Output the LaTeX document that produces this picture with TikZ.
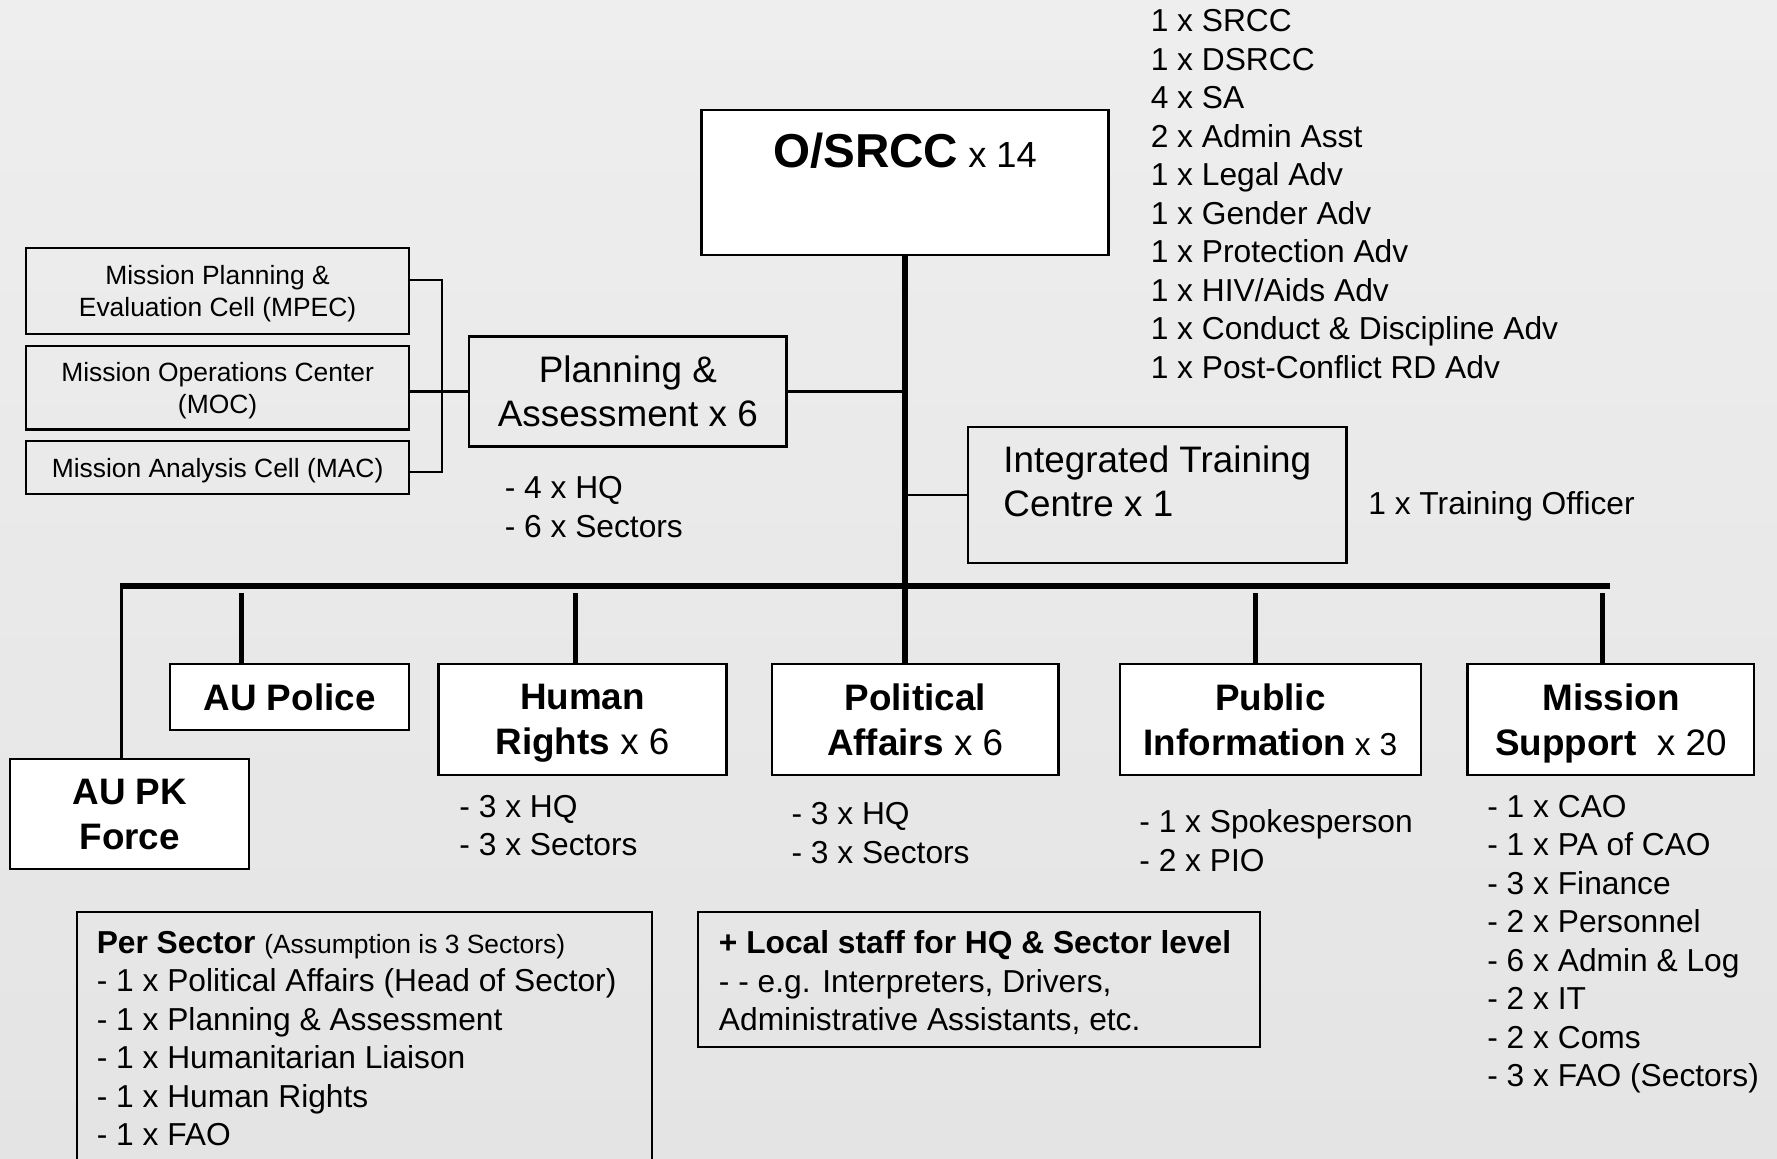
\documentclass[tikz,border=0pt]{standalone}
\usepackage{fontspec}
\setmainfont{Liberation Sans}
\usepackage{tikz}
\definecolor{bgtop}{RGB}{238,238,238}
\definecolor{bgmid}{RGB}{217,217,217}
\definecolor{bgbot}{RGB}{228,228,228}

\begin{document}
\begin{tikzpicture}[x=0.5pt,y=0.5pt,yscale=-1,xscale=1,
  unitbox/.style={draw, line width=1pt, fill=white, align=center, inner sep=0pt, text depth=0pt, font=\fontsize{16.25}{20}\selectfont\bfseries},
  openbox/.style={draw, line width=1pt, inner sep=0pt},
  cellbox/.style={draw, line width=1pt, align=center, inner sep=0pt, text depth=0pt, minimum width=169pt, font=\fontsize{11.65}{14}\selectfont},
  listtxt/.style={anchor=north west, inner sep=0pt, align=left, font=\fontsize{14}{17}\selectfont},
  link/.style={line width=1pt},
  drop/.style={line width=2pt, shorten >=3pt},
  trunk/.style={line width=2.5pt}]
\useasboundingbox (0,0) rectangle (1568,1022);
\clip (0,0) rectangle (1568,1022);
\fill [top color=bgtop, middle color=bgmid, bottom color=bgbot] (0,0) rectangle (1568,1022);

% Head office
\node [openbox, fill=white, minimum width=179.5pt, minimum height=64pt] (osrcc) at (798.5,161) {};
\node [inner sep=0pt] (osrcclbl) at (798.5,133) {{\fontsize{21}{25}\selectfont\bfseries O/SRCC}{\fontsize{16}{19}\selectfont\ x 14}};
\node [listtxt] (staff) at (1015,8) {1 x SRCC\\1 x DSRCC\\4 x SA\\2 x Admin Asst\\1 x Legal Adv\\1 x Gender Adv\\1 x Protection Adv\\1 x HIV/Aids Adv\\1 x Conduct \& Discipline Adv\\1 x Post-Conflict RD Adv};

% Planning & Assessment with its cells
\node [openbox, align=center, minimum width=140pt, minimum height=48.5pt, font=\fontsize{16.25}{19.5}\selectfont] (plan) at (554,345.5) {Planning \&\\Assessment x 6};
\node [listtxt] (planlist) at (445,420) {- 4 x HQ\\- 6 x Sectors};
\node [cellbox, minimum height=38pt] (mpec) at (192,257) {Mission Planning \&\\Evaluation Cell (MPEC)};
\node [cellbox, minimum height=37pt] (moc) at (192,342) {Mission Operations Center\\(MOC)};
\node [cellbox, minimum height=23.5pt] (mac) at (192,412.5) {Mission Analysis Cell (MAC)};
\coordinate (brkt) at (390,0);

% Training centre
\node [openbox, minimum width=167pt, minimum height=60pt] (itc) at (1021,437) {};
\node [anchor=north west, inner sep=0pt, align=left, font=\fontsize{16.25}{19.5}\selectfont] (itclbl) at (885,393) {Integrated Training\\Centre x 1};
\node [listtxt] (trainer) at (1207,433) {1 x Training Officer};

% Components
\coordinate (barL) at (106,517);
\coordinate (barR) at (1421,517);
\node [unitbox, minimum width=105.5pt, minimum height=48.5pt] (aupk) at (114.5,718.5) {AU PK\\Force};
\node [unitbox, minimum width=105.5pt, minimum height=29pt] (aupol) at (255.5,615) {AU Police};
\node [unitbox, minimum width=127pt, minimum height=49pt] (hr) at (514,635) {Human\\Rights{\mdseries\ x 6}};
\node [unitbox, minimum width=126.5pt, minimum height=49pt] (polaff) at (807.5,635) {Political\\Affairs{\mdseries\ x 6}};
\node [unitbox, minimum width=133pt, minimum height=49pt] (pubinfo) at (1121,635) {Public\\Information{\mdseries\fontsize{14}{20}\selectfont\ x 3}};
\node [unitbox, minimum width=126.5pt, minimum height=49pt] (missup) at (1421.5,635) {Mission\\Support{\mdseries\ \ x 20}};

\node [listtxt] (hrlist) at (405,701) {- 3 x HQ\\- 3 x Sectors};
\node [listtxt] (palist) at (698,708) {- 3 x HQ\\- 3 x Sectors};
\node [listtxt] (pilist) at (1005,714) {- 1 x Spokesperson\\- 2 x PIO};
\node [listtxt] (mslist) at (1312,701) {- 1 x CAO\\- 1 x PA of CAO\\- 3 x Finance\\- 2 x Personnel\\- 6 x Admin \& Log\\- 2 x IT\\- 2 x Coms\\- 3 x FAO (Sectors)};

% Notes
\node [openbox, anchor=north west, minimum width=253.5pt, minimum height=130pt] (sectorbox) at (67,804) {};
\node [listtxt] (sectortxt) at (85,821) {\textbf{Per Sector} {\fontsize{11.65}{17}\selectfont(Assumption is 3 Sectors)}\\- 1 x Political Affairs (Head of Sector)\\- 1 x Planning \& Assessment\\- 1 x Humanitarian Liaison\\- 1 x Human Rights\\- 1 x FAO};
\node [openbox, minimum width=248pt, minimum height=59.5pt] (localbox) at (864,864.5) {};
\node [listtxt] (localtxt) at (634,821) {\textbf{+ Local staff for HQ \& Sector level}\\- - e.g. Interpreters, Drivers,\\Administrative Assistants, etc.};

% Lines
\draw [trunk] (osrcc.south) -- (osrcc.south |- polaff.north);
\draw [link] (plan.east) -- (plan.east -| osrcc.south);
\draw [link] (itc.west) -- (itc.west -| osrcc.south);
\draw [link] (plan.west -| moc.east) -- (plan.west);
\draw [link] ([yshift=-5pt]mpec.east) -- ([yshift=-5pt]mpec.east -| brkt) -- ([yshift=2pt]mac.east -| brkt) -- ([yshift=2pt]mac.east);
\draw [line width=2.5pt] (barL) -- (barR);
\draw [line width=1.5pt] ([xshift=0.5pt]barL) -- ([xshift=0.5pt]barL |- aupk.north);
\draw [drop] ([xshift=-21.25pt]aupol.north) -- ([xshift=-21.25pt]aupol.north |- barL);
\draw [drop] ([xshift=-3pt]hr.north) -- ([xshift=-3pt]hr.north |- barL);
\draw [drop] ([xshift=-6.5pt]pubinfo.north) -- ([xshift=-6.5pt]pubinfo.north |- barL);
\draw [drop] ([xshift=-3.75pt]missup.north) -- ([xshift=-3.75pt]missup.north |- barL);

\end{tikzpicture}
\end{document}
